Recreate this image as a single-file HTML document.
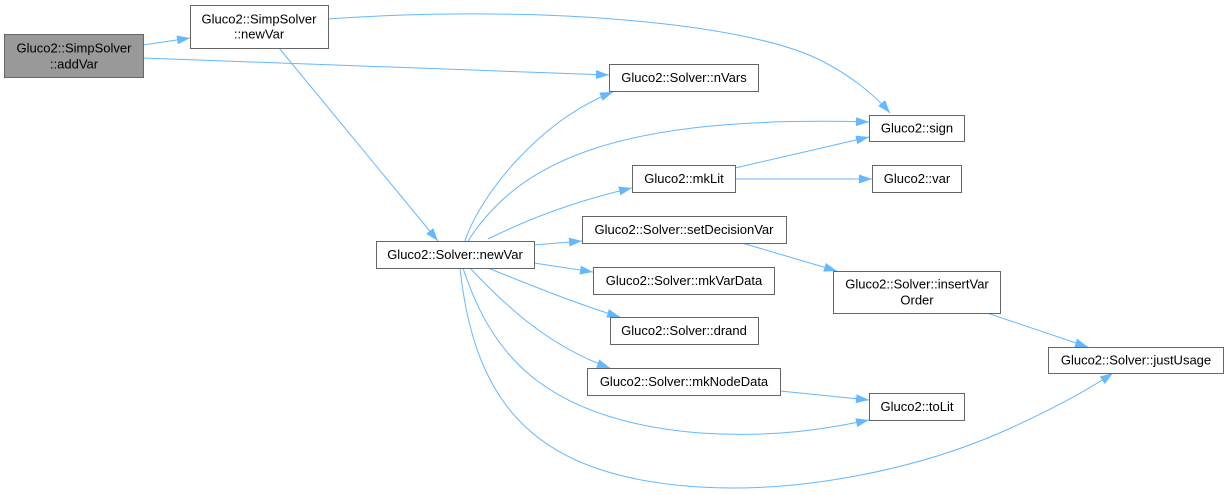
<!DOCTYPE html>
<html>
<head>
<meta charset="utf-8">
<style>
html,body{margin:0;padding:0;background:#fff;}
svg{display:block;}
text{font-family:"Liberation Sans",Arial,sans-serif;font-size:13px;fill:#000;text-anchor:middle;}
.n{fill:#fff;stroke:#666;stroke-width:1;}
.e{fill:none;stroke:#63b8ff;stroke-width:1;}
</style>
</head>
<body>
<svg width="1228" height="495" viewBox="0 0 1228 495" xmlns="http://www.w3.org/2000/svg">
<defs>
<marker id="a" viewBox="0 0 13 9" markerWidth="13" markerHeight="9" refX="13" refY="4.5" orient="auto" markerUnits="userSpaceOnUse">
<path d="M0,0 L13,4.5 L0,9 z" fill="#63b8ff"/>
</marker>
</defs>

<!-- edges -->
<path class="e" marker-end="url(#a)" d="M143,45 L190,38"/>
<path class="e" marker-end="url(#a)" d="M143,58 L609,75"/>
<path class="e" marker-end="url(#a)" d="M328,19 C520,5 740,20 820,60 C850,75 875,95 890,113"/>
<path class="e" marker-end="url(#a)" d="M279,48 L438,241"/>
<path class="e" marker-end="url(#a)" d="M465,241 C480,195 540,120 613,92"/>
<path class="e" marker-end="url(#a)" d="M468,241 C520,160 620,115 869,122"/>
<path class="e" marker-end="url(#a)" d="M488,239 C530,218 580,200 632,188"/>
<path class="e" marker-end="url(#a)" d="M735,168 L869,137"/>
<path class="e" marker-end="url(#a)" d="M735,179 L872,179"/>
<path class="e" marker-end="url(#a)" d="M534,245 L582,241"/>
<path class="e" marker-end="url(#a)" d="M534,263 L593,272"/>
<path class="e" marker-end="url(#a)" d="M488,268 C530,285 580,305 620,317"/>
<path class="e" marker-end="url(#a)" d="M470,268 C500,300 545,345 610,368"/>
<path class="e" marker-end="url(#a)" d="M463,268 C490,350 540,420 700,433 C780,438 830,428 869,420"/>
<path class="e" marker-end="url(#a)" d="M460,268 C475,410 540,477 700,487 C800,493 920,470 1013,427 C1050,410 1085,392 1113,373"/>
<path class="e" marker-end="url(#a)" d="M742,243 L837,271"/>
<path class="e" marker-end="url(#a)" d="M987,313 L1088,347"/>
<path class="e" marker-end="url(#a)" d="M780,391 L869,400"/>

<!-- nodes -->
<rect x="4.5" y="34.5" width="139" height="43" fill="#999999" stroke="#666" stroke-width="1"/>
<text x="74" y="52.5">Gluco2::SimpSolver</text>
<text x="74" y="68.5">::addVar</text>

<rect class="n" x="190.5" y="5.5" width="138" height="43"/>
<text x="259" y="23.5">Gluco2::SimpSolver</text>
<text x="259" y="38.5">::newVar</text>

<rect class="n" x="609.5" y="64.5" width="149" height="27"/>
<text x="684" y="82">Gluco2::Solver::nVars</text>

<rect class="n" x="869.5" y="115.5" width="95" height="26"/>
<text x="917" y="132.5">Gluco2::sign</text>

<rect class="n" x="632.5" y="165.5" width="103" height="27"/>
<text x="684" y="183">Gluco2::mkLit</text>

<rect class="n" x="872.5" y="165.5" width="89" height="27"/>
<text x="917" y="183">Gluco2::var</text>

<rect class="n" x="582.5" y="216.5" width="204" height="27"/>
<text x="684" y="234">Gluco2::Solver::setDecisionVar</text>

<rect class="n" x="376.5" y="241.5" width="158" height="27"/>
<text x="455" y="259">Gluco2::Solver::newVar</text>

<rect class="n" x="593.5" y="267.5" width="181" height="27"/>
<text x="684" y="285">Gluco2::Solver::mkVarData</text>

<rect class="n" x="833.5" y="271.5" width="167" height="42"/>
<text x="917" y="288.5">Gluco2::Solver::insertVar</text>
<text x="917" y="304.5">Order</text>

<rect class="n" x="610.5" y="317.5" width="148" height="27"/>
<text x="684" y="335">Gluco2::Solver::drand</text>

<rect class="n" x="1048.5" y="347.5" width="175" height="26"/>
<text x="1136" y="364.5">Gluco2::Solver::justUsage</text>

<rect class="n" x="587.5" y="368.5" width="193" height="27"/>
<text x="684" y="386">Gluco2::Solver::mkNodeData</text>

<rect class="n" x="869.5" y="393.5" width="95" height="27"/>
<text x="917" y="411">Gluco2::toLit</text>
</svg>
</body>
</html>
